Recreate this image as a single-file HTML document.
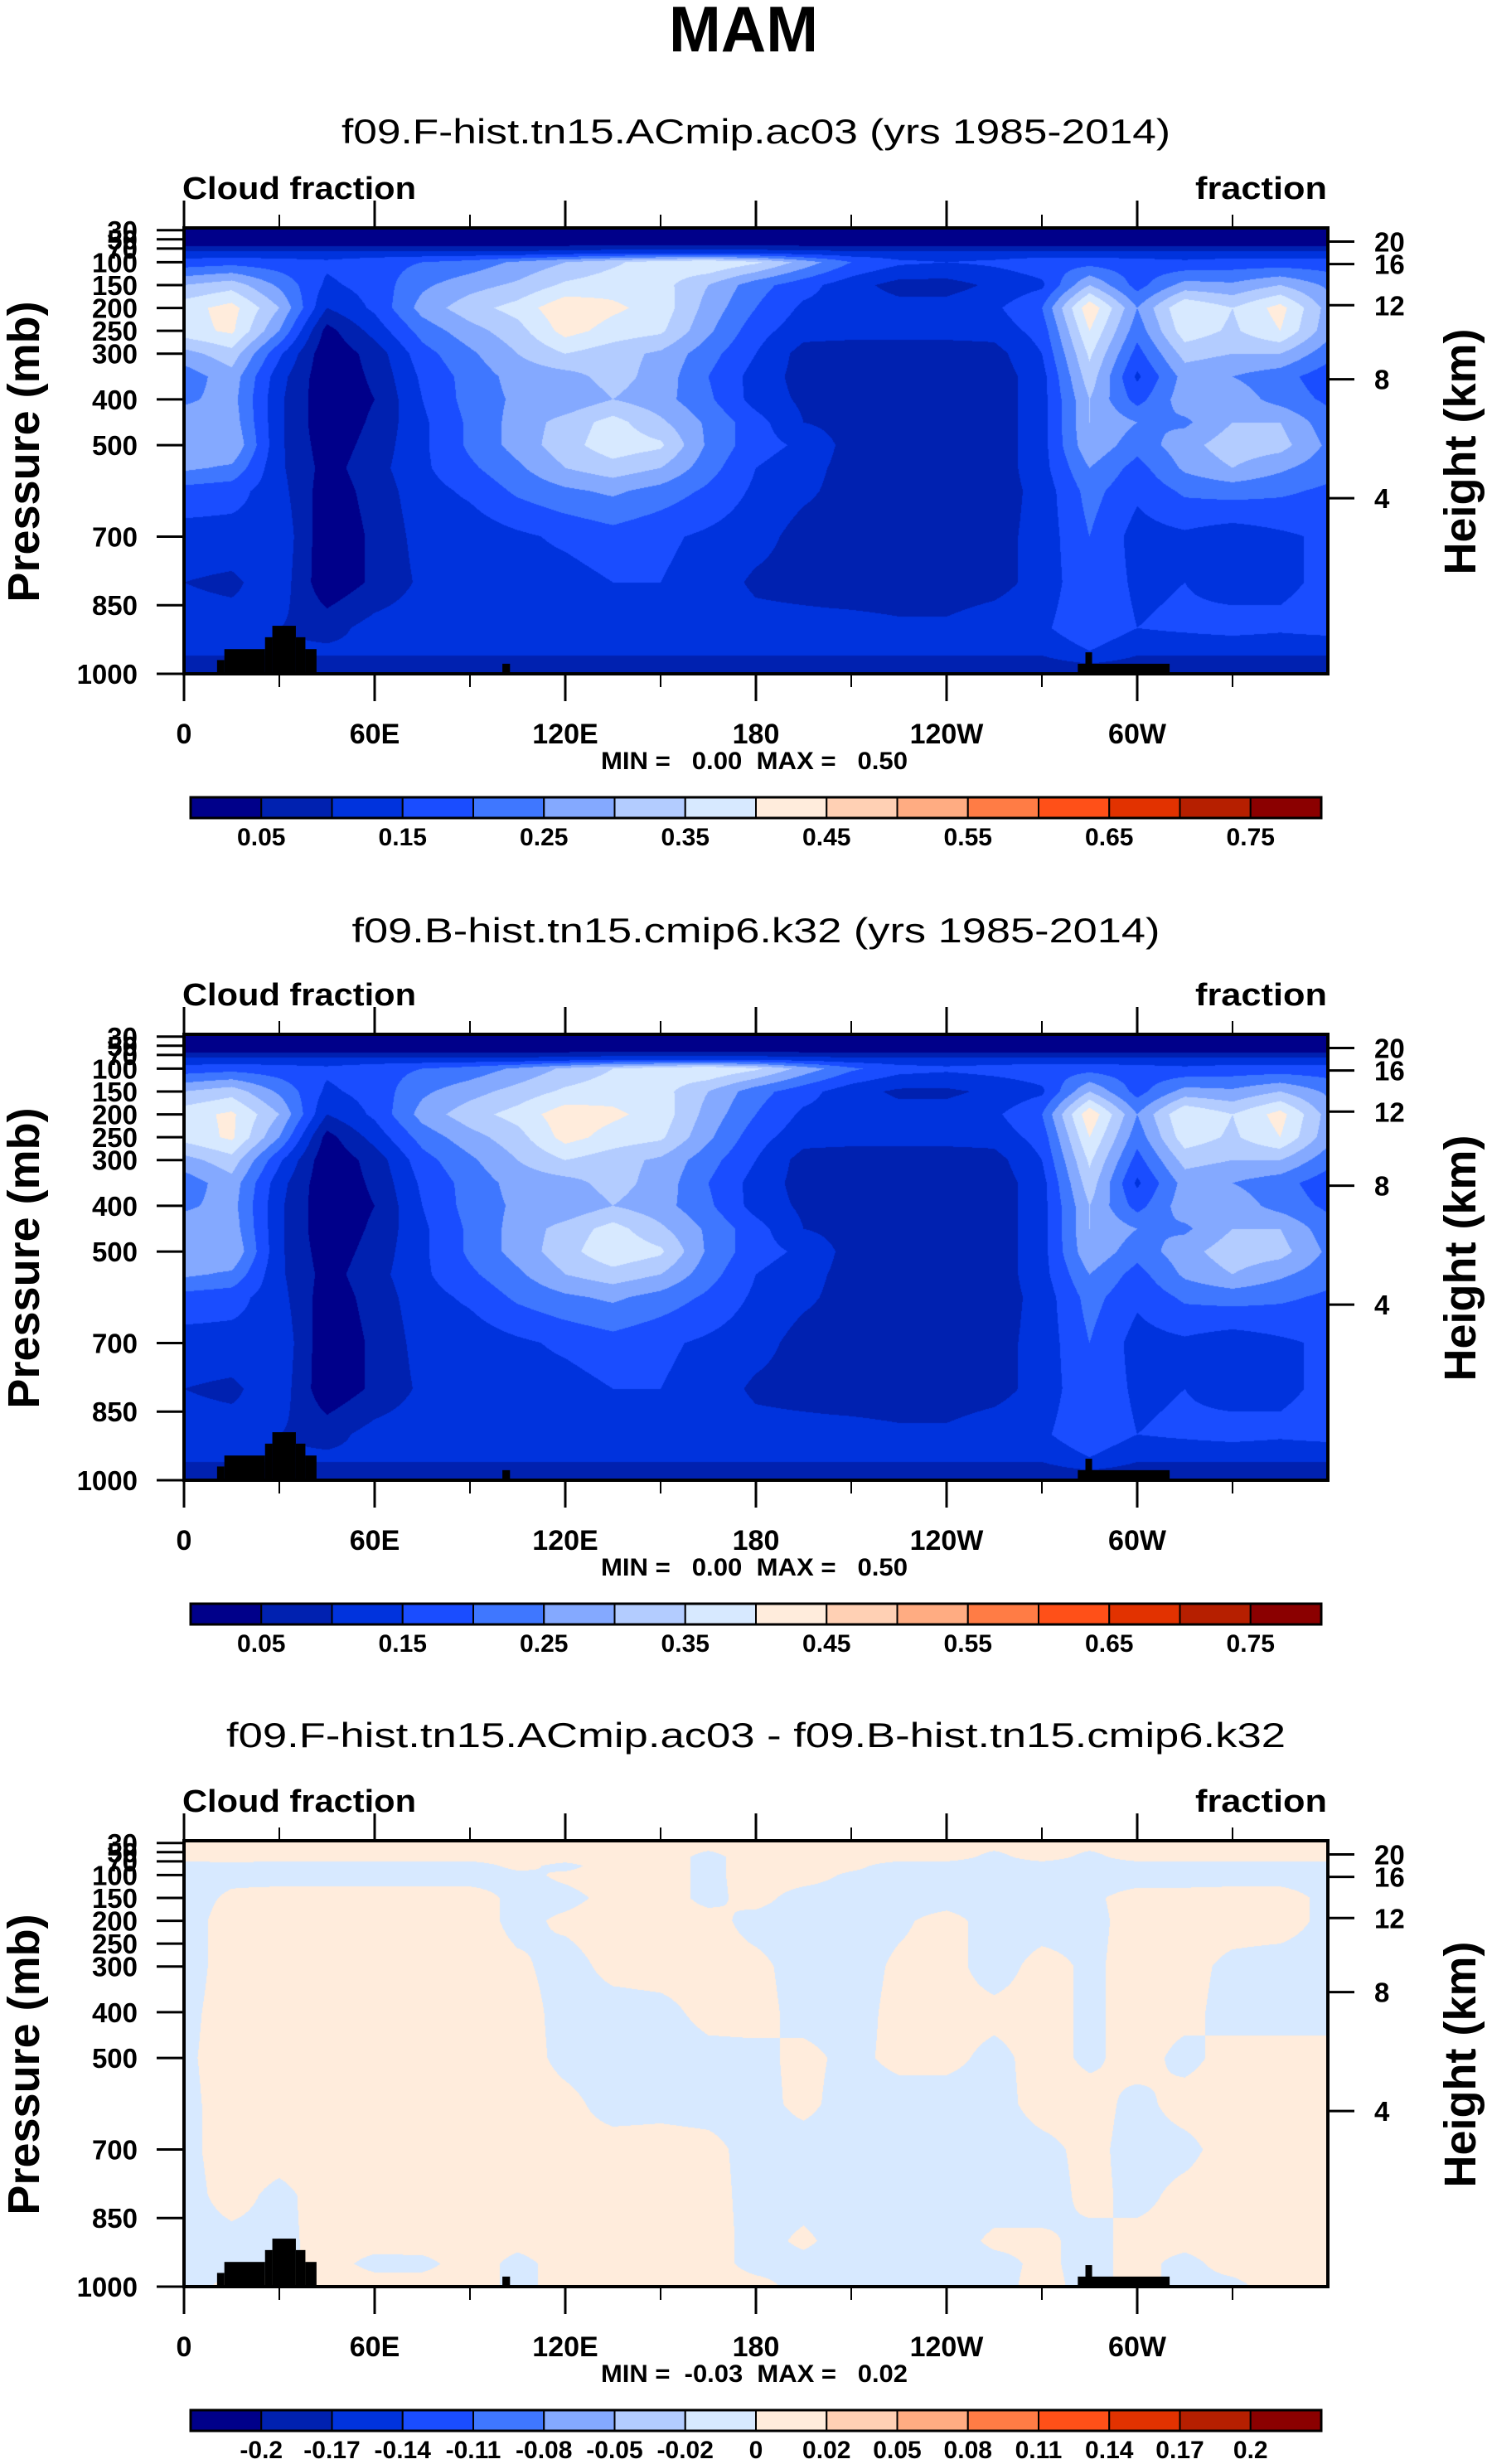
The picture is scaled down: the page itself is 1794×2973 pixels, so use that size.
<!DOCTYPE html>
<html><head><meta charset="utf-8">
<style>
html,body{margin:0;padding:0;background:#fff;}
body{width:1794px;height:2973px;position:relative;overflow:hidden;font-family:"Liberation Sans",sans-serif;}
canvas{position:absolute;}
svg{position:absolute;left:0;top:0;}
</style></head>
<body>
<canvas id="c1"></canvas>
<canvas id="c2"></canvas>
<canvas id="c3"></canvas>
<svg id="ov" width="1794" height="2973"></svg>
<script>
// ---------- data ----------
const lons = [0,15,30,45,60,75,90,105,120,135,150,165,180,195,210,225,240,255,270,285,300,315,330,345,360];
const levels = [25,60,80,100,150,200,250,300,350,400,450,500,550,600,700,800,900,950,1000];
// cloud fraction (percent), run ac03
const cf1 = [
[2,2,2,2,2,2,2,2,2,2,2,2,2,2,2,2,2,2,2,2,2,2,2,2,2],
[3,3,3,3,3,3,3,3,3,3,3,3,3,3,3,3,3,3,3,3,3,3,3,3,3],
[12,12,12,12,12,12,12,12,13,14,14,14,14,13,12,12,12,12,12,12,12,12,12,12,12],
[17,18,17,16,18,20,22,26,30,34,38,40,36,28,20,16,15,16,18,18,17,16,17,17,17],
[30,33,24,14,17,24,28,31,36,38,37,30,22,17,12,8,8,11,14,30,18,27,26,30,24],
[38,42,30,10,16,27,33,37,44,41,38,28,20,14,13,12,12,14,20,44,25,40,35,42,28],
[38,41,25,3,12,22,28,33,42,38,36,26,17,12,12,12,12,12,17,40,22,38,34,40,27],
[28,33,16,1,7,18,24,30,35,32,29,22,15,8,7,7,7,8,15,36,18,32,30,30,22],
[22,28,12,1,6,16,22,27,28,32,28,20,13,8,7,7,7,7,13,33,14,27,25,22,17],
[24,27,11,1,5,15,22,26,26,30,27,21,13,9,8,7,6,7,13,30,18,28,28,23,19],
[28,28,11,1,6,14,21,27,32,37,31,24,17,10,8,7,7,7,13,30,25,24,30,30,22],
[29,30,11,2,7,14,21,27,33,38,36,24,17,14,8,7,7,7,13,29,22,28,33,32,24],
[26,24,11,3,8,14,19,24,30,33,30,22,15,12,8,7,7,7,13,25,18,26,30,26,22],
[18,17,12,2,7,13,16,21,24,26,23,19,14,11,8,7,7,7,12,22,16,21,22,21,19],
[13,13,14,1,6,12,12,14,16,18,16,14,12,8,8,7,7,8,12,20,13,14,12,14,16],
[10,9,13,1,6,11,10,13,13,15,15,13,9,8,7,7,7,8,12,19,14,15,13,14,16],
[12,12,10,8,12,13,13,14,13,14,13,13,12,12,12,11,11,13,14,19,15,16,17,16,17],
[11,11,11,11,11,11,11,11,11,11,11,11,11,11,11,11,11,11,11,15,11,11,11,11,11],
[6,6,6,6,6,6,6,6,6,6,6,6,6,6,6,6,6,6,6,6,6,6,6,6,6]
];
// cloud fraction (percent), run k32
const cf2 = [
[2,2,2,2,2,2,2,2,2,2,2,2,2,2,2,2,2,2,2,2,2,2,2,2,2],
[3,3,3,3,3,3,3,3,3,3,3,3,3,3,3,3,3,3,3,3,3,3,3,3,3],
[12,12,12,12,12,12,12,12,13,14,14,14,14,13,12,12,12,12,12,12,12,12,12,12,12],
[17,18,17,16,18,20,22,26,31,35,38,40,36,28,21,17,16,17,18,18,17,16,17,17,17],
[30,33,24,14,17,24,28,32,36,38,37,30,22,17,12,9,9,11,14,30,18,27,26,30,24],
[38,41,30,10,16,27,33,37,43,41,38,28,20,14,13,12,12,14,20,44,25,40,35,42,28],
[37,41,25,3,12,22,28,33,42,38,36,26,17,12,12,12,12,12,17,40,22,38,34,40,27],
[28,33,16,1,7,18,24,30,35,32,29,22,15,8,7,7,7,8,15,36,18,32,30,30,22],
[22,28,12,1,6,16,22,27,28,32,28,20,13,8,7,7,7,7,13,33,14,27,25,22,17],
[24,27,11,1,5,15,22,26,26,30,27,21,13,9,8,7,6,7,13,30,18,28,28,23,19],
[28,28,11,1,6,14,21,27,32,37,31,24,17,10,8,7,7,7,13,30,25,24,30,30,22],
[29,30,11,2,7,14,21,27,33,39,36,24,17,14,8,7,7,7,13,29,22,28,33,32,24],
[26,24,11,3,8,14,19,24,30,33,30,22,15,12,8,7,7,7,13,25,18,26,30,26,22],
[18,17,12,2,7,13,16,21,24,26,23,19,14,11,8,7,7,7,12,22,16,21,22,21,19],
[13,13,14,1,6,12,12,14,16,18,16,14,12,8,8,7,7,8,12,20,13,14,12,14,16],
[10,9,13,1,6,11,10,13,13,15,15,13,9,8,7,7,7,8,12,19,14,15,13,14,16],
[12,12,10,8,12,13,13,14,13,14,13,13,12,12,12,11,11,13,14,19,15,16,17,16,17],
[11,11,11,11,11,11,11,11,11,11,11,11,11,11,11,11,11,11,11,15,11,11,11,11,11],
[6,6,6,6,6,6,6,6,6,6,6,6,6,6,6,6,6,6,6,6,6,6,6,6,6]
];
const diffLevels = [25,60,80,100,150,200,300,400,500,600,700,800,900,950,1000];
// difference (units of 0.001)
const cfDiff = [
[5,5,5,5,5,5,5,5,5,5,5,5,5,5,5,5,5,5,5,5,5,5,5,5,5],
[5,5,5,5,5,5,5,5,5,5,5,-3,5,5,5,5,5,-3,5,-3,5,5,5,5,5],
[-5,-3,-5,-5,-5,-5,-5,3,-3,5,5,-3,5,5,3,-5,-5,-5,-5,-5,-5,-5,-5,-5,-5],
[-5,-3,-5,-5,-5,-5,-5,-3,2,5,5,-3,5,5,-2,-5,-5,-5,-5,-5,-5,-5,-5,-5,-5],
[-5,2,5,5,5,5,5,-3,-3,3,5,-3,4,-5,-5,-5,-5,-5,-5,-2,4,4,5,5,-3],
[-5,5,5,5,5,5,5,-3,2,5,3,4,-4,-5,-5,-2,4,-5,-5,-3,4,5,5,5,-3],
[-5,5,5,5,5,5,5,2,-4,3,4,4,3,-5,-5,2,4,-5,4,-2,4,4,-3,-5,-5],
[-3,5,3,5,5,5,5,5,-4,-4,-3,3,4,-4,-4,3,4,3,4,-2,4,3,-4,-5,-5],
[-2,5,3,5,5,5,5,5,-3,-5,-5,-3,-3,3,-3,3,3,-3,4,-2,4,-3,4,5,5],
[-3,5,5,5,5,5,5,5,3,-4,-3,-4,-4,3,-5,-5,-5,-4,4,4,-3,4,5,5,5],
[-3,5,5,5,5,5,5,5,3,4,4,3,-4,-5,-5,-5,-5,-5,-3,3,-4,-3,5,5,5],
[-4,4,-3,5,5,5,5,3,4,5,5,4,-4,-4,-5,-5,-5,-5,-5,3,-3,3,5,5,5],
[-4,-3,-3,4,4,5,5,3,5,5,5,5,-4,2,-5,-5,-5,2,2,-3,3,3,5,5,5],
[-4,-3,-3,4,-3,-3,5,-3,4,5,5,5,-4,-3,-5,-5,-5,-3,2,-3,3,-3,4,5,5],
[-4,3,3,5,5,5,5,-3,4,5,5,5,4,-4,-5,-5,-5,-3,3,-3,3,-3,-3,5,5]
];
// topography bars: [lonStart, lonEnd, surfacePressure]
const topoLon0 = [10.4,12.7,25.5,27.8,35.2,38.2,100.2,281.3,283.7];
const topoLon1 = [12.7,25.5,27.8,35.2,38.2,41.7,102.6,310.2,285.8];
const topoP    = [970,946,920,895,920,946,978,978,953];
// colour scale
const cfBounds = [5,10,15,20,25,30,35,40,45,50,55,60,65,70,75];
const cfLabels = ["0.05","0.15","0.25","0.35","0.45","0.55","0.65","0.75"];
const diffBounds = [-200,-170,-140,-110,-80,-50,-20,0,20,50,80,110,140,170,200];
const diffLabels = ["-0.2","-0.17","-0.14","-0.11","-0.08","-0.05","-0.02","0","0.02","0.05","0.08","0.11","0.14","0.17","0.2"];
const palette = ["#00008a","#0021b0","#0033dd","#1a4dff","#3f77ff","#84a9ff","#b3ccff","#d7e9ff","#ffecdc","#ffd0b4","#ffac82","#ff7c45","#ff5018","#e23200","#b61f00","#8b0000"];
const pTicks = [30,50,70,100,150,200,250,300,400,500,700,850,1000];
const hTicks = [4,8,12,16,20];
const hTickP = [616,356,194,104,55];
const lonTicks = [0,60,120,180,240,300];
const lonTickLabels = ["0","60E","120E","180","120W","60W"];

// ---------- geometry ----------
const PX0=222, PX1=1602, PH=538, PTOP=25;
const plotTops=[275,1248,2221];
function xOf(lon){return PX0+lon/360*(PX1-PX0);}
function yOf(p,top){return top+(p-PTOP)/(1000-PTOP)*PH;}
function hex(c){return [parseInt(c.substr(1,2),16),parseInt(c.substr(3,2),16),parseInt(c.substr(5,2),16)];}
const palRGB = palette.map(hex);
function classify(v,b){let i=0;while(i<b.length&&v>=b[i])i++;return i;}

function interp(grid,lv,lon,p){
  let j=Math.min(lons.length-2,Math.floor(lon/15)); let fx=(lon-lons[j])/(lons[j+1]-lons[j]);
  let i=0; while(i<lv.length-2&&p>lv[i+1])i++;
  let fy=Math.max(0,Math.min(1,(p-lv[i])/(lv[i+1]-lv[i])));
  const a=grid[i][j],b=grid[i][j+1],c=grid[i+1][j],d=grid[i+1][j+1];
  return (a*(1-fx)+b*fx)*(1-fy)+(c*(1-fx)+d*fx)*fy;
}
function drawField(id,grid,lv,bounds,top){
  const cv=document.getElementById(id);
  const W=PX1-PX0,H=PH;
  cv.width=W;cv.height=H;cv.style.left=PX0+'px';cv.style.top=top+'px';
  const ctx=cv.getContext('2d');const img=ctx.createImageData(W,H);
  for(let y=0;y<H;y++){const p=PTOP+(y+0.5)/H*(1000-PTOP);
    for(let x=0;x<W;x++){const lon=(x+0.5)/W*360;
      const v=interp(grid,lv,lon,p);const c=palRGB[classify(v,bounds)];
      const k=(y*W+x)*4;img.data[k]=c[0];img.data[k+1]=c[1];img.data[k+2]=c[2];img.data[k+3]=255;}}
  ctx.putImageData(img,0,0);
}
drawField('c1',cf1,levels,cfBounds,plotTops[0]);
drawField('c2',cf2,levels,cfBounds,plotTops[1]);
drawField('c3',cfDiff,diffLevels,diffBounds,plotTops[2]);

// ---------- overlay ----------
const NS="http://www.w3.org/2000/svg";
const ov=document.getElementById('ov');
function mk(tag,attrs,parent,text){const e=document.createElementNS(NS,tag);for(const k in attrs)e.setAttribute(k,attrs[k]);if(text!==undefined)e.textContent=text;(parent||ov).appendChild(e);return e;}

const t0=mk('text',{x:897,y:62,'text-anchor':'middle','font-size':78,'font-weight':'bold','textLength':180,'lengthAdjust':'spacingAndGlyphs'},ov,'MAM');



const subtitles=["f09.F-hist.tn15.ACmip.ac03 (yrs 1985-2014)","f09.B-hist.tn15.cmip6.k32 (yrs 1985-2014)","f09.F-hist.tn15.ACmip.ac03 - f09.B-hist.tn15.cmip6.k32"];
const subLen=[1000,975,1278];
const subY=[173,1137,2108];
const minmax=["MIN =   0.00  MAX =   0.50","MIN =   0.00  MAX =   0.50","MIN =  -0.03  MAX =   0.02"];

for(let k=0;k<3;k++){
  const top=plotTops[k], bot=top+PH;
  const g=mk('g',{});
  
  
  const st=mk('text',{x:912,y:subY[k],'text-anchor':'middle','font-size':42,'textLength':subLen[k],'lengthAdjust':'spacingAndGlyphs'},g,subtitles[k]);
  
  
  const lt=mk('text',{x:220,y:top-35,'font-size':38,'font-weight':'bold','textLength':282,'lengthAdjust':'spacingAndGlyphs'},g,'Cloud fraction');
  
  
  const rt=mk('text',{x:1601,y:top-35,'text-anchor':'end','font-size':38,'font-weight':'bold','textLength':159,'lengthAdjust':'spacingAndGlyphs'},g,'fraction');
  
  
  for(let i=0;i<topoP.length;i++){
    const r=mk('rect',{x:xOf(topoLon0[i]),y:yOf(topoP[i],top),width:xOf(topoLon1[i])-xOf(topoLon0[i]),height:bot-yOf(topoP[i],top),fill:'#000'},g);
    
    
  }
  const fr=mk('rect',{x:PX0,y:top,width:PX1-PX0,height:PH,fill:'none',stroke:'#000','stroke-width':4},g);
  
  
  for(let lon=0;lon<=330;lon+=30){
    const major=lon%60===0, L=major?33:16, x=xOf(lon);
    mk('line',{x1:x,x2:x,y1:top,y2:top-L,stroke:'#000','stroke-width':major?3:2},g);
    mk('line',{x1:x,x2:x,y1:bot,y2:bot+L,stroke:'#000','stroke-width':major?3:2},g);
  }
  for(let i=0;i<lonTicks.length;i++){
    const tl=mk('text',{x:xOf(lonTicks[i]),y:bot+84,'text-anchor':'middle','font-size':34,'font-weight':'bold'},g,lonTickLabels[i]);
    
    
  }
  const mm=mk('text',{x:910,y:bot+115,'text-anchor':'middle','font-size':30,'font-weight':'bold','textLength':370,'lengthAdjust':'spacingAndGlyphs',style:'white-space:pre'},g,minmax[k]);
  
  
  for(const p of pTicks){
    const y=yOf(p,top);
    mk('line',{x1:189,x2:PX0,y1:y,y2:y,stroke:'#000','stroke-width':3},g);
    const pl=mk('text',{x:166,y:y+12,'text-anchor':'end','font-size':33,'font-weight':'bold'},g,String(p));
    
    
  }
  for(let i=0;i<hTicks.length;i++){
    const y=yOf(hTickP[i],top);
    mk('line',{x1:PX1,x2:1634,y1:y,y2:y,stroke:'#000','stroke-width':3},g);
    const hl=mk('text',{x:1658,y:y+12,'font-size':33,'font-weight':'bold'},g,String(hTicks[i]));
    
    
  }
  const ya=mk('text',{x:0,y:0,'text-anchor':'middle','font-size':54,'font-weight':'bold',transform:'translate(47,'+(top+270)+') rotate(-90)'},g,'Pressure (mb)');
  
  
  const ha=mk('text',{x:0,y:0,'text-anchor':'middle','font-size':54,'font-weight':'bold',transform:'translate(1780,'+(top+270)+') rotate(-90)'},g,'Height (km)');
  
  
  const cbY=top+687, cbH=25, cbX0=230, cbX1=1594, n=palette.length, bw=(cbX1-cbX0)/n;
  const cb=mk('g',{},g);
  
  
  for(let i=0;i<n;i++){
    const r=mk('rect',{x:cbX0+i*bw,y:cbY,width:bw,height:cbH,fill:palette[i],stroke:'#000','stroke-width':2},cb);
    
    
  }
  mk('rect',{x:cbX0,y:cbY,width:cbX1-cbX0,height:cbH,fill:'none',stroke:'#000','stroke-width':3},cb);
  const labs = k<2 ? cfLabels : diffLabels;
  for(let i=0;i<labs.length;i++){
    const x = k<2 ? cbX0+(1+2*i)*bw : cbX0+(1+i)*bw;
    const cl=mk('text',{x:x,y:cbY+58,'text-anchor':'middle','font-size':30,'font-weight':'bold'},cb,labs[i]);
    
    
  }
}
</script>
</body></html>
